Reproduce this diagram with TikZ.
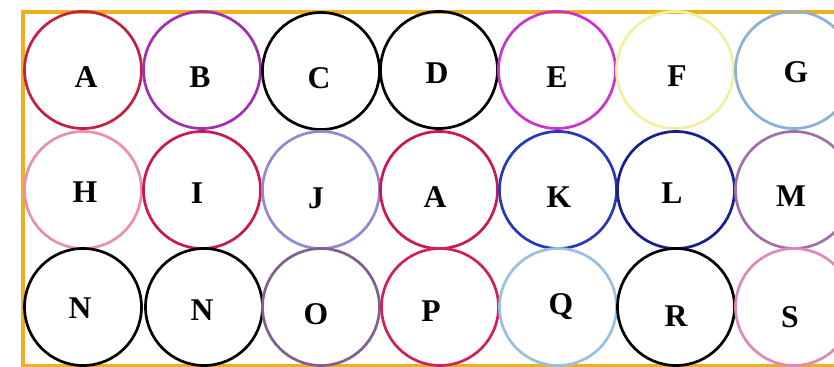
\documentclass[tikz,border=0pt]{standalone}
\usepackage{fontspec}
\setmainfont{Liberation Serif}

\definecolor{frame}{HTML}{EFB020}
\definecolor{crimson}{HTML}{C42040}
\definecolor{orchid}{HTML}{A030B0}
\definecolor{violet}{HTML}{CC33CC}
\definecolor{lemon}{HTML}{F0F0A0}
\definecolor{steel}{HTML}{8CB0D8}
\definecolor{rose}{HTML}{E890B0}
\definecolor{ruby}{HTML}{CC1850}
\definecolor{lavender}{HTML}{9088D0}
\definecolor{royal}{HTML}{2838B8}
\definecolor{navy}{HTML}{182090}
\definecolor{mauve}{HTML}{A070A8}
\definecolor{plum}{HTML}{806090}
\definecolor{cerise}{HTML}{D02060}
\definecolor{sky}{HTML}{98C0E0}
\definecolor{blush}{HTML}{E088B8}

\tikzset{
  ring/.style={circle, draw=#1, line width=2.3pt, minimum size=3.51cm, inner sep=0pt},
  letter/.style={font=\fontsize{27}{30}\selectfont\bfseries, inner sep=0pt}
}

\begin{document}
\begin{tikzpicture}[x=0.03cm, y=-0.03cm]
    \useasboundingbox (0,0) rectangle (834,367);
    \clip (0,0) rectangle (834,367);
    \fill[white] (0,0) rectangle (834,367);

    \draw[frame, line width=3pt] (23,12) rectangle (900,366);

    % top row
    \node[ring=crimson] (a) at (83,70) {};    \node[letter] (la) at (86,77) {A};
    \node[ring=orchid] (b) at (202,70) {};    \node[letter] (lb) at (200,77) {B};
    \node[ring=black] (c) at (321,71) {};     \node[letter] (lc) at (319,78) {C};
    \node[ring=black] (d) at (439,70) {};     \node[letter] (ld) at (437,73) {D};
    \node[ring=violet] (e) at (557,70) {};    \node[letter] (le) at (557,77) {E};
    \node[ring=lemon] (f) at (675,70) {};     \node[letter] (lf) at (677,76) {F};
    \node[ring=steel] (g) at (794,70) {};     \node[letter] (lg) at (796,72) {G};

    % middle row
    \node[ring=rose] (h) at (83,190) {};      \node[letter] (lh) at (85,192) {H};
    \node[ring=ruby] (i) at (202,190) {};     \node[letter] (li) at (197,193) {I};
    \node[ring=lavender] (j) at (321,190) {}; \node[letter] (lj) at (316,198) {J};
    \node[ring=ruby] (a2) at (439,190) {};    \node[letter] (la2) at (435,197) {A};
    \node[ring=royal] (k) at (558,190) {};    \node[letter] (lk) at (559,197) {K};
    \node[ring=navy] (l) at (676,190) {};     \node[letter] (ll) at (672,193) {L};
    \node[ring=mauve] (m) at (794,190) {};    \node[letter] (lm) at (791,196) {M};

    % bottom row
    \node[ring=black] (n) at (83,307) {};     \node[letter] (ln) at (80,308) {N};
    \node[ring=black] (n2) at (204,307) {};   \node[letter] (ln2) at (202,310) {N};
    \node[ring=plum] (o) at (321,307) {};     \node[letter] (lo) at (316,314) {O};
    \node[ring=cerise] (p) at (440,307) {};   \node[letter] (lp) at (431,311) {P};
    \node[ring=sky] (q) at (558,307) {};      \node[letter] (lq) at (561,307) {Q};
    \node[ring=black] (r) at (676,307) {};    \node[letter] (lr) at (676,316) {R};
    \node[ring=blush] (s) at (794,307) {};    \node[letter] (ls) at (790,317) {S};
\end{tikzpicture}
\end{document}
